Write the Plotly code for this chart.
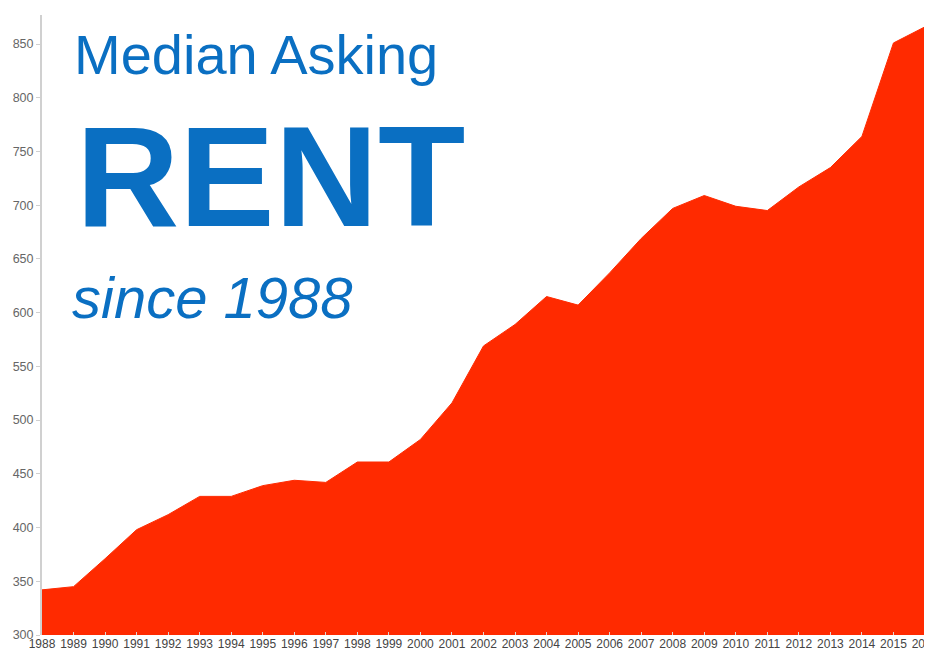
import plotly.graph_objects as go

years = list(range(1988, 2017))
rent = [342, 345, 371, 398, 412, 429, 429, 439, 444, 442,
        461, 461, 482, 516, 569, 589, 615, 607, 637, 669,
        697, 709, 699, 695, 717, 735, 764, 851, 866]
y_ticks = [300, 350, 400, 450, 500, 550, 600, 650, 700, 750, 800, 850]

title_top = "Median Asking"
title_mid = "RENT"
title_bot = "since 1988"

BLUE = "#0A6FC2"
RED = "#FF2A00"
FONT = "Liberation Sans, Arial, sans-serif"

fig = go.Figure()
fig.add_trace(go.Scatter(
    x=years, y=rent, mode="lines", fill="tozeroy",
    line=dict(color=RED, width=1), fillcolor=RED,
    hoverinfo="x+y", showlegend=False,
))

fig.update_layout(
    width=924, height=646,
    margin=dict(l=34, r=7, t=7, b=19),
    paper_bgcolor="white", plot_bgcolor="white",
    font=dict(family=FONT, color="#555555"),
    xaxis=dict(
        range=[1988, 2016], tickmode="array", tickvals=years,
        ticktext=[str(y) for y in years], showgrid=False, zeroline=False,
        ticks="inside", ticklen=3, tickcolor="#d8d8d8", automargin=False,
        ticklabeloverflow="allow",
        tickfont=dict(size=12, color="#444444"), showline=False,
    ),
    yaxis=dict(
        range=[300, 877], tickmode="array", tickvals=y_ticks,
        showgrid=False, zeroline=False, showline=True, linecolor="#d0d0d0",
        linewidth=2, ticks="outside", ticklen=4, tickcolor="#d0d0d0",
        automargin=False,
        tickfont=dict(size=12.5, color="#666666"),
    ),
    annotations=[
        dict(text=title_top, xref="paper", yref="paper", x=0.034, y=0.937,
             xanchor="left", yanchor="middle", showarrow=False,
             font=dict(family=FONT, size=56, color=BLUE)),
        dict(text="<b>" + title_mid + "</b>", xref="paper", yref="paper",
             x=0.036, y=0.74, xanchor="left", yanchor="middle", showarrow=False,
             font=dict(family=FONT, size=143, color=BLUE)),
        dict(text="<i>" + title_bot + "</i>", xref="paper", yref="paper",
             x=0.032, y=0.545, xanchor="left", yanchor="middle", showarrow=False,
             font=dict(family=FONT, size=58, color=BLUE)),
    ],
)

fig.write_html("out.html")
